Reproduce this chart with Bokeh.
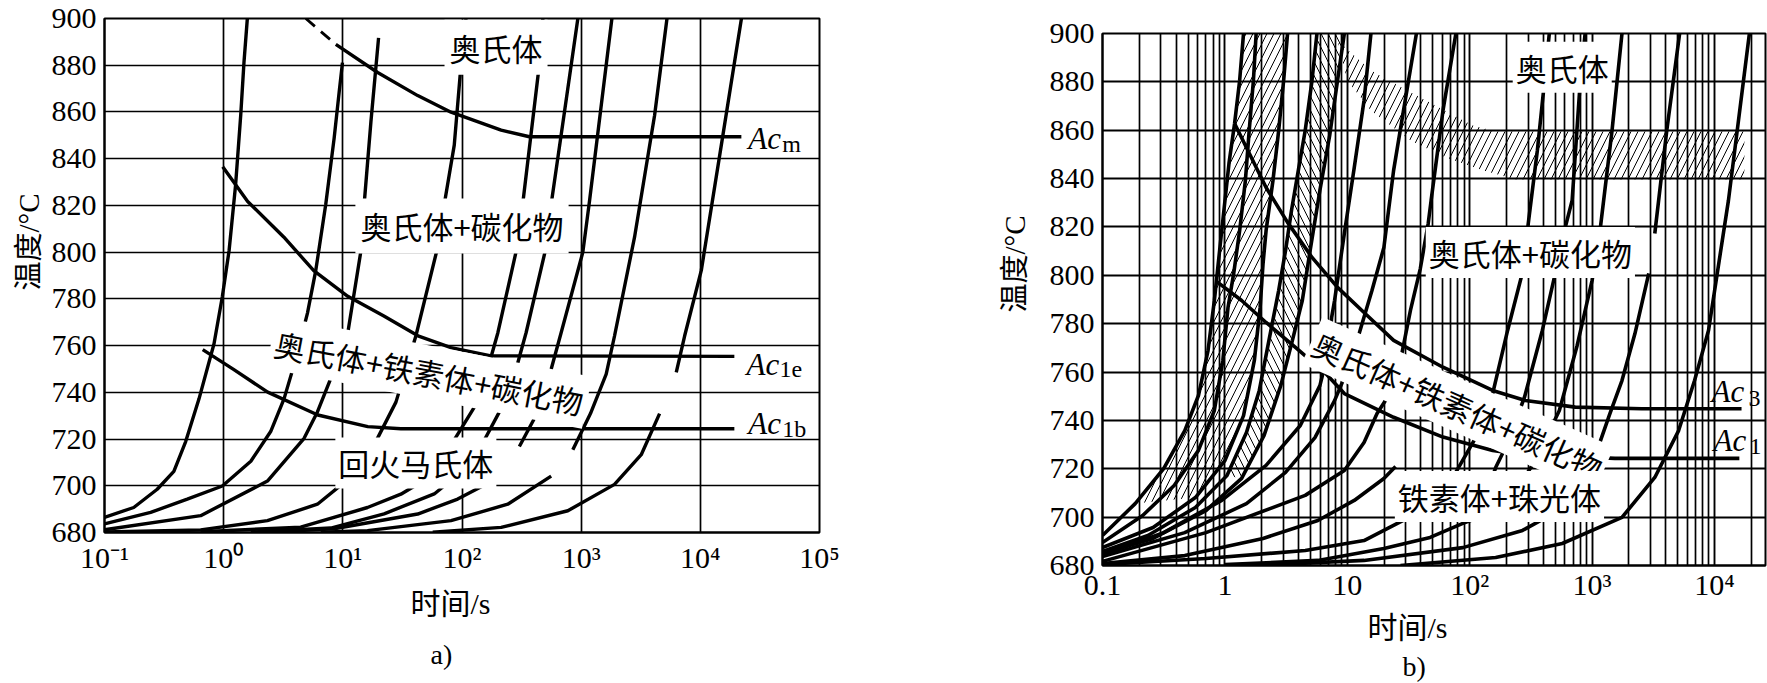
from bokeh.plotting import figure
from bokeh.layouts import row
from bokeh.models import Range1d, FixedTicker, Label, Title
from bokeh.embed import file_html
from bokeh.resources import INLINE

SERIF = "'Liberation Serif'"
MIX = "'Liberation Serif', 'Noto Sans CJK SC'"
CJK = "'Noto Sans CJK SC'"

# ---------------- shared axis data ----------------
temp_ticks = [680, 700, 720, 740, 760, 780, 800, 820, 840, 860, 880, 900]
a_time_ticks = [0.1, 1, 10, 100, 1000, 10000, 100000]
a_time_labels = ["10⁻¹", "10⁰", "10¹", "10²", "10³", "10⁴", "10⁵"]
b_time_ticks = [0.1, 1, 10, 100, 1000, 10000]
b_time_labels = ["0.1", "1", "10", "10²", "10³", "10⁴"]

# ---------------- panel a: heating curves (time s, temperature C) ----------------
a_c1_t = [0.1, 0.176, 0.277, 0.382, 0.480, 0.621, 0.830, 0.975, 1.11, 1.26, 1.39, 1.48, 1.58]
a_c1_T = [686.5, 690.7, 698.5, 706.2, 718.9, 737.2, 760.8, 781.0, 800.6, 828.9, 858.5, 881.1, 900]
a_c2_t = [0.1, 0.244, 0.495, 0.975, 1.69, 2.48, 3.21, 4.03, 5.05, 5.93, 7.19, 8.45, 9.31, 9.93]
a_c2_T = [683.7, 688.6, 694.3, 699.9, 710.5, 723.2, 737.2, 754.2, 773.9, 792.2, 820.5, 848.7, 868.4, 881.1]
a_c3_t = [0.1, 0.641, 2.33, 4.73, 6.12, 8.19, 10.9, 14.2, 15.1, 17.2, 19.95]
a_c3_T = [681.2, 687.2, 702.0, 720.3, 731.6, 747.8, 764.1, 800.7, 820.5, 855.7, 891.7]
a_c4_t = [0.1, 0.641, 2.33, 6.12, 10.6, 18.3, 27.9, 41.0, 62.5, 71.0, 86.1, 98.2, 108]
a_c4_T = [680.2, 681.1, 685.1, 692.1, 702.0, 717.5, 735.8, 764.1, 802.1, 820.5, 845.8, 880.4, 900]
a_e1_t = [0.64, 4.43, 16.1, 30.7, 54.8, 86.1, 127, 164, 200, 294, 323, 446, 477]
a_e1_T = [680.3, 682.3, 690.7, 696.4, 704.1, 719.6, 733.7, 749.9, 765.5, 803.5, 820.5, 880.4, 900]
a_e2_t = [1.69, 7.93, 22.2, 58.5, 89.1, 149, 213, 284, 345, 508, 560, 724, 938]
a_e2_T = [680.2, 681.9, 688.0, 696.5, 704.1, 718.2, 733.0, 749.9, 765.5, 802.1, 820.5, 860.0, 900]
a_e3lo_t = [2.48, 8.45, 42.5, 92, 149]
a_e3lo_T = [680.2, 681.6, 687.9, 694.3, 699.9]
a_e3hi_t = [303, 433, 560, 679, 1033, 1175, 1811]
a_e3hi_T = [716.8, 731.6, 749.9, 765.5, 800.0, 821.9, 900]
a_e4lo_t = [6.53, 16.1, 80.9, 242, 560]
a_e4lo_T = [680.1, 680.8, 685.1, 692.1, 704.1]
a_e4hi_t = [851, 1197, 1622, 1905, 2805, 4130, 5250]
a_e4hi_T = [715.4, 730.9, 747.8, 764.1, 806.4, 858.5, 900]
a_d_t = [56.8, 213, 773, 1905, 3192, 4550]
a_d_T = [680.1, 682.2, 689.3, 700.6, 713.3, 730.9]
a_u_t = [6280, 7380, 10190, 15000, 22130]
a_u_T = [748.5, 764.1, 792.2, 845.8, 900]

# panel a: critical lines
a_acm_t = [8.73, 19.6, 42.5, 80.9, 213, 368, 22100]
a_acm_T = [888.9, 876.9, 867.0, 859.9, 852.2, 849.4, 849.4]
a_acmd_t = [4.89, 8.73]
a_acmd_T = [900, 888.9]
a_ac1e_t = [0.982, 1.59, 3.19, 5.70, 11.0, 22.1, 42.7, 80.9, 175, 19300]
a_ac1e_T = [836.5, 821.7, 806.5, 792.1, 781.1, 772.7, 764.2, 759.1, 755.6, 755.4]
a_ac1b_t = [0.667, 1.21, 2.34, 6.17, 16.2, 30.7, 19300]
a_ac1b_T = [758.3, 749.8, 740.1, 730.3, 725.3, 724.4, 724.4]

# ---------------- panel b: heating curves ----------------
b_b1_t = [0.1, 0.185, 0.316, 0.470, 0.608, 0.728, 0.820, 0.942, 1.08, 1.20, 1.32, 1.42]
b_b1_T = [692.4, 705.6, 720.1, 735.8, 750.3, 768.9, 789.6, 818.5, 846.3, 862.8, 880.6, 900]
b_b2_t = [0.1, 0.213, 0.385, 0.608, 0.820, 0.962, 1.06, 1.18, 1.32, 1.47, 1.58, 1.71, 1.80]
b_b2_T = [689.5, 700.7, 713.1, 727.6, 744.1, 764.8, 786.7, 800.8, 818.5, 839.2, 859.9, 880.6, 900]
b_b3_t = [0.1, 0.259, 0.574, 1.0, 1.42, 1.74, 1.94, 2.05, 2.17, 2.47, 2.75, 3.02, 3.25]
b_b3_T = [687.4, 695.7, 708.1, 723.4, 742.0, 764.8, 786.7, 804.9, 818.5, 839.2, 859.9, 880.6, 900]
b_b4_t = [0.1, 0.235, 0.574, 1.04, 1.50, 1.91, 2.29, 2.75, 3.13, 3.50, 3.98, 4.53, 5.15, 5.65]
b_b4_T = [685.8, 692.4, 704.0, 717.2, 735.0, 752.4, 773.1, 793.7, 810.3, 826.8, 843.4, 859.9, 880.6, 900]
b_b5_t = [0.1, 0.259, 0.700, 1.37, 2.09, 2.86, 3.56, 4.29, 4.97, 5.97, 7.18, 8.32, 9.46]
b_b5_T = [685.0, 691.2, 702.7, 716.0, 733.8, 754.4, 773.1, 789.6, 810.3, 835.1, 857.8, 880.6, 900]
b_b6_t = [0.1, 0.316, 0.942, 2.17, 4.13, 5.97, 7.05, 7.45, 7.87, 9.46, 11.4, 13.7, 15.6]
b_b6_T = [684.5, 693.6, 706.9, 721.4, 737.9, 754.4, 768.9, 782.6, 789.6, 817.3, 844.6, 872.3, 900]
b_b7_t = [0.1, 0.470, 1.50, 3.13, 5.44, 7.87, 10.4, 12.5, 15.9, 19.9, 23.9, 28.8, 36.7]
b_b7_T = [683.7, 693.6, 705.6, 718.5, 732.9, 748.2, 762.7, 775.9, 793.7, 811.5, 843.4, 868.2, 900]
b_b8_t = [0.1, 0.700, 4.53, 9.46, 13.7, 17.5, 21.8, 27.2, 32.8, 39.5, 45.8, 48.4, 60.5, 77.1]
b_b8_T = [681.7, 693.6, 709.0, 719.3, 730.9, 742.9, 750.3, 764.8, 785.5, 802.8, 821.4, 831.0, 868.2, 900]
b_l1_t = [0.1, 0.470, 2.05, 5.75, 11.4, 19.9, 24.8]
b_l1_T = [680.8, 684.1, 691.2, 698.6, 706.9, 716.0, 720.9]
b_r1_t = [0.1, 0.700, 4.53, 13.7, 30.5, 45.8, 72.9, 112, 154, 204, 270, 296, 357, 407, 447]
b_r1_T = [680.4, 682.9, 686.2, 690.3, 699.4, 706.9, 716.4, 732.9, 751.1, 777.2, 801.2, 818.5, 851.6, 879.3, 900]
b_r2_t = [140, 163, 196, 280, 392, 500, 603, 687, 798, 877]
b_r2_T = [711.0, 720.5, 728.8, 749.5, 777.2, 800.8, 819.8, 831.0, 879.3, 900]
b_r3_t = [1.0, 5.75, 19.9, 47.5, 87.9, 154, 270, 344, 540, 755, 1000, 1161, 1455, 1754]
b_r3_T = [680.4, 682.1, 687.0, 691.6, 697.4, 701.9, 715.2, 723.4, 744.1, 771.0, 797.9, 818.5, 859.9, 900]
b_r4hi_t = [3252, 4074, 5188]
b_r4hi_T = [817.3, 859.9, 900]
b_r4lo_t = [1.80, 13.7, 87.9, 270, 500, 755, 1099, 1400, 1754, 2239, 2904]
b_r4lo_T = [680.0, 682.1, 687.4, 694.5, 701.9, 713.1, 727.6, 742.9, 756.5, 775.9, 800.8]
b_r5_t = [27.2, 163, 570, 1754, 3252, 5093, 6871, 8933, 13000, 19280]
b_r5_T = [680.0, 683.3, 689.1, 699.9, 716.4, 735.8, 756.5, 777.2, 831.0, 900]

# panel b: critical lines and hatched band
b_ac3_t = [1.20, 2.17, 3.25, 5.15, 8.32, 13.7, 23.9, 60.5, 154, 285, 728, 2553, 16630]
b_ac3_T = [862.8, 836.3, 821.9, 807.4, 795.0, 784.6, 773.1, 762.0, 752.4, 748.2, 745.5, 744.8, 744.8]
b_ac1_t = [0.853, 1.37, 2.17, 3.77, 6.55, 9.46, 23.9, 60.5, 154, 245, 1538, 15960]
b_ac1_T = [797.5, 789.6, 780.5, 770.2, 759.8, 751.1, 741.3, 733.1, 727.6, 726.1, 724.3, 724.3]
b_bandup_t = [8.32, 15.6, 39.5, 106, 163, 17540]
b_bandup_T = [897.1, 884.7, 873.5, 862.0, 859.5, 859.5]
b_bandlo_t = [10.0, 15.6, 32.8, 64.0, 128, 237, 17540]
b_bandlo_T = [880.6, 868.2, 855.8, 848.7, 843.4, 839.6, 839.6]


def make_fig(xmax, top, fh, fw, left, right, bottom, ticks, labels, minor, xstand):
    p = figure(x_axis_type="log", x_range=Range1d(0.1, xmax), y_range=Range1d(680, 900),
               frame_width=fw, frame_height=fh, min_border_left=left, min_border_right=right,
               min_border_top=top, min_border_bottom=bottom, output_backend="svg",
               toolbar_location=None, title=None, background_fill_color="white",
               border_fill_color="white", outline_line_color="black", outline_line_width=2)
    p.frame_align = False
    p.xaxis.ticker = FixedTicker(ticks=ticks, minor_ticks=minor)
    p.xaxis.major_label_overrides = dict(zip(ticks, labels))
    p.yaxis.ticker = FixedTicker(ticks=temp_ticks)
    for ax in (p.xaxis, p.yaxis):
        ax.major_label_text_font = SERIF
        ax.major_label_text_font_size = "30px"
        ax.major_label_text_color = "black"
        ax.major_tick_line_color = None
        ax.minor_tick_line_color = None
        ax.major_tick_out = 0
        ax.major_tick_in = 0
        ax.minor_tick_out = 0
        ax.minor_tick_in = 0
        ax.axis_line_color = "black"
        ax.axis_line_width = 2
    p.xaxis.major_label_standoff = xstand
    p.yaxis.major_label_standoff = 8
    p.xgrid.grid_line_color = "black"
    p.ygrid.grid_line_color = "black"
    p.xgrid.grid_line_alpha = 1
    p.ygrid.grid_line_alpha = 1
    return p


def curve(p, t, T, w=3.0, dash="solid"):
    p.line(t, T, line_color="black", line_width=w, line_dash=dash)


def box_label(p, x, y, text, size=31, angle=0.0, pad=4):
    p.add_layout(Label(x=x, y=y, text=text, text_font=CJK, text_font_size=f"{size}px",
                       text_color="black", text_align="center", text_baseline="middle",
                       angle=angle, background_fill_color="white", background_fill_alpha=1.0,
                       padding=pad))


def ac_label(p, x, y, sub, dx, dy):
    p.add_layout(Label(x=x, y=y, text="Ac", text_font=SERIF, text_font_style="italic",
                       text_font_size="31px", text_align="left", text_baseline="middle",
                       text_color="black"))
    p.add_layout(Label(x=x, y=y, x_offset=dx, y_offset=dy, text=sub, text_font=SERIF,
                       text_font_size="24px", text_align="left", text_baseline="middle",
                       text_color="black"))


def add_titles(p, ylab_off, ylab_stand, xlab_off, xlab_stand, cap, cap_off, cap_stand):
    p.add_layout(Title(text="温度/°C", align="left", offset=ylab_off, standoff=ylab_stand,
                       text_font=MIX, text_font_size="29px", text_font_style="normal",
                       text_color="black"), "left")
    p.add_layout(Title(text="时间/s", align="left", offset=xlab_off, standoff=xlab_stand,
                       text_font=MIX, text_font_size="30px", text_font_style="normal",
                       text_color="black"), "below")
    p.add_layout(Title(text=cap, align="left", offset=cap_off, standoff=cap_stand,
                       text_font=SERIF, text_font_size="28px", text_font_style="normal",
                       text_color="black"), "below")


# ================= panel a =================
pa = make_fig(1e5, 18, 514, 715, 104, 61, 151, a_time_ticks, a_time_labels, [], 8)
pa.xgrid.grid_line_width = 1.7
pa.ygrid.grid_line_width = 1.7

for t, T in [(a_c1_t, a_c1_T), (a_c2_t, a_c2_T), (a_c3_t, a_c3_T), (a_c4_t, a_c4_T),
             (a_e1_t, a_e1_T), (a_e2_t, a_e2_T), (a_e3lo_t, a_e3lo_T), (a_e3hi_t, a_e3hi_T),
             (a_e4lo_t, a_e4lo_T), (a_e4hi_t, a_e4hi_T), (a_d_t, a_d_T), (a_u_t, a_u_T),
             (a_acm_t, a_acm_T), (a_ac1e_t, a_ac1e_T), (a_ac1b_t, a_ac1b_T)]:
    curve(pa, t, T, 3.4)
curve(pa, a_acmd_t, a_acmd_T, 2.8, "12 8")

box_label(pa, 193, 887.7, "奥氏体", pad=5)
box_label(pa, 100, 811.2, "奥氏体+碳化物", pad=5)
box_label(pa, 52.9, 748.5, "奥氏体+铁素体+碳化物", angle=-0.19, pad=4)
box_label(pa, 41, 709.8, "回火马氏体", pad=3)
ac_label(pa, 25300, 848.8, "m", 34, -6)
ac_label(pa, 24400, 752.0, "1e", 33, -5)
ac_label(pa, 25300, 726.5, "1b", 34, -5)
add_titles(pa, 242, 7, 306, 17, "a)", 326, 16)

# ================= panel b =================
b_minor = [k * d for d in [0.1, 1, 10, 100, 1000, 10000] for k in range(2, 10)]
pb = make_fig(26100, 33, 532, 663, 222, 2, 118, b_time_ticks, b_time_labels, b_minor, 2)
pb.xgrid.grid_line_width = 1.9
pb.ygrid.grid_line_width = 1.9
pb.xgrid.minor_grid_line_color = "black"
pb.xgrid.minor_grid_line_width = 1.7

hatch_kw = dict(fill_color=None, line_color=None, hatch_color="black", hatch_weight=1.0,
                hatch_scale=14, hatch_alpha=1.0)
pb.patch(b_b1_t[1:] + b_b3_t[2:][::-1], b_b1_T[1:] + b_b3_T[2:][::-1], hatch_pattern="/", **hatch_kw)
pb.patch(b_b4_t[3:] + b_b5_t[3:][::-1], b_b4_T[3:] + b_b5_T[3:][::-1], hatch_pattern="\\", **hatch_kw)
pb.patch(b_bandup_t + b_bandlo_t[::-1], b_bandup_T + b_bandlo_T[::-1], hatch_pattern="/", **hatch_kw)

for t, T in [(b_b1_t, b_b1_T), (b_b2_t, b_b2_T), (b_b3_t, b_b3_T), (b_b4_t, b_b4_T),
             (b_b5_t, b_b5_T), (b_b6_t, b_b6_T), (b_b7_t, b_b7_T), (b_b8_t, b_b8_T),
             (b_l1_t, b_l1_T), (b_r1_t, b_r1_T), (b_r2_t, b_r2_T), (b_r3_t, b_r3_T),
             (b_r4hi_t, b_r4hi_T), (b_r4lo_t, b_r4lo_T), (b_r5_t, b_r5_T),
             (b_ac3_t, b_ac3_T), (b_ac1_t, b_ac1_T)]:
    curve(pb, t, T, 3.6)

box_label(pb, 570, 886.0, "奥氏体", pad=3)
box_label(pb, 313, 809.4, "奥氏体+碳化物", pad=3)
box_label(pb, 80, 746.2, "奥氏体+铁素体+碳化物", angle=-0.42, pad=3)
box_label(pb, 175, 708.5, "铁素体+珠光体", pad=3)
ac_label(pb, 9460, 752.0, "3", 37, -7)
ac_label(pb, 9810, 731.7, "1", 36, -6)
add_titles(pb, 253, 32, 265, 10, "b)", 300, 0)

layout = row(pa, pb)
open("out.html", "w").write(file_html(layout, INLINE))
